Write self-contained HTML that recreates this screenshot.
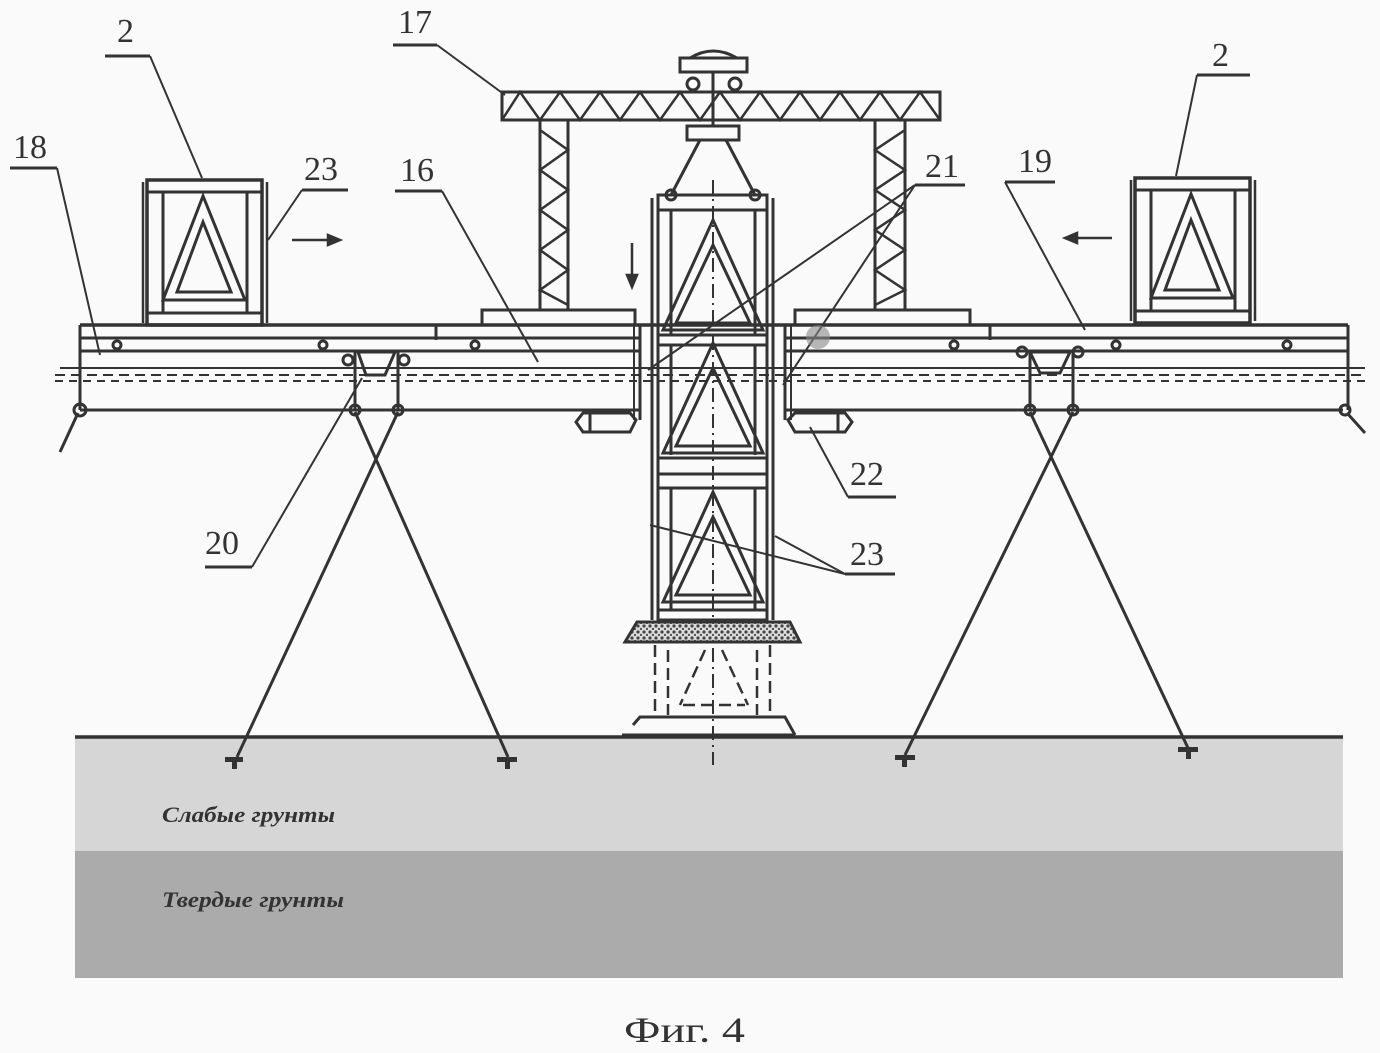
<!DOCTYPE html>
<html><head><meta charset="utf-8"><style>
html,body{margin:0;padding:0;background:#fafafa;}
svg{display:block}
text{font-family:"Liberation Serif",serif;fill:#333}
</style></head><body>
<svg width="1380" height="1053" viewBox="0 0 1380 1053" xmlns="http://www.w3.org/2000/svg">
<defs>
<pattern id="dots" width="6" height="6" patternUnits="userSpaceOnUse"><rect width="6" height="6" fill="#ddd"/><circle cx="2" cy="2" r="1.6" fill="#444"/><circle cx="5" cy="5" r="1.2" fill="#555"/></pattern>
<g id="cont">
 <rect x="0" y="0" width="115" height="145" fill="none" stroke="#333" stroke-width="3.5"/>
 <line x1="0" y1="12" x2="115" y2="12" stroke="#333" stroke-width="3"/>
 <line x1="0" y1="133" x2="115" y2="133" stroke="#333" stroke-width="3"/>
 <line x1="16" y1="12" x2="16" y2="133" stroke="#333" stroke-width="3"/>
 <line x1="100" y1="12" x2="100" y2="133" stroke="#333" stroke-width="3"/>
 <polygon points="56,16 16,120 98,120" fill="none" stroke="#333" stroke-width="3"/>
 <polygon points="56,42 30,112 84,112" fill="none" stroke="#333" stroke-width="3"/>
 <line x1="-4" y1="2" x2="-4" y2="143" stroke="#333" stroke-width="2.5"/>
 <line x1="120" y1="2" x2="120" y2="143" stroke="#333" stroke-width="2.5"/>
</g>
<g id="panel">
 <polygon points="55,0 5,110 105,110" fill="none" stroke="#333" stroke-width="3"/>
 <polygon points="55,25 18,103 92,103" fill="none" stroke="#333" stroke-width="3"/>
</g>
</defs>
<rect width="1380" height="1053" fill="#fafafa"/>
<!-- ground -->
<rect x="75" y="737" width="1268" height="114" fill="#d6d6d6"/>
<rect x="75" y="851" width="1268" height="127" fill="#ababab"/>
<line x1="75" y1="737" x2="1343" y2="737" stroke="#333" stroke-width="3.5"/>
<text x="162" y="822" font-size="22" font-style="italic" font-weight="bold" textLength="173" lengthAdjust="spacingAndGlyphs">Слабые грунты</text>
<text x="162" y="907" font-size="22" font-style="italic" font-weight="bold" textLength="182" lengthAdjust="spacingAndGlyphs">Твердые грунты</text>
<text x="624" y="1042" font-size="36" textLength="121" lengthAdjust="spacingAndGlyphs">Фиг. 4</text>

<g stroke="#333" fill="none" stroke-width="3">
<!-- gantry -->
<rect x="502" y="92" width="438" height="28"/>
<polyline points="502,120 520,92 540,120 560,92 580,120 600,92 620,120 640,92 660,120 680,92 700,120 720,92 740,120 760,92 780,120 800,92 820,120 840,92 860,120 880,92 900,120 920,92 940,120" stroke-width="2.5"/>
<rect x="540" y="120" width="28" height="190"/>
<polyline points="540,130 568,150 540,170 568,190 540,210 568,230 540,250 568,270 540,290 568,305" stroke-width="2.5"/>
<rect x="875" y="120" width="30" height="190"/>
<polyline points="905,130 875,150 905,170 875,190 905,210 875,230 905,250 875,270 905,290 875,305" stroke-width="2.5"/>
<rect x="482" y="310" width="153" height="15"/>
<rect x="795" y="310" width="175" height="15"/>
<!-- trolley -->
<rect x="680" y="58" width="67" height="14"/>
<path d="M690,58 Q713,44 737,58" />
<circle cx="693" cy="84" r="6"/><circle cx="735" cy="84" r="6"/>
<line x1="713" y1="72" x2="713" y2="126"/>
<rect x="687" y="126" width="52" height="14"/>
<polyline points="700,140 671,195"/><polyline points="726,140 755,195"/>
<circle cx="671" cy="195" r="5"/><circle cx="755" cy="195" r="5"/>
<!-- central column -->
<line x1="652" y1="198" x2="652" y2="620"/>
<line x1="773" y1="198" x2="773" y2="620"/>
<rect x="658" y="195" width="109" height="425" />
<line x1="658" y1="210" x2="767" y2="210"/>
<line x1="671" y1="210" x2="671" y2="335"/><line x1="755" y1="210" x2="755" y2="335"/>
<line x1="658" y1="335" x2="767" y2="335"/>
<line x1="658" y1="345" x2="767" y2="345"/>
<line x1="671" y1="345" x2="671" y2="455"/><line x1="755" y1="345" x2="755" y2="455"/>
<line x1="658" y1="458" x2="767" y2="458"/>
<line x1="658" y1="474" x2="767" y2="474"/>
<line x1="671" y1="488" x2="671" y2="610"/><line x1="755" y1="488" x2="755" y2="610"/>
<line x1="658" y1="488" x2="767" y2="488"/>
<line x1="658" y1="610" x2="767" y2="610"/>
<use href="#panel" x="658" y="220"/>
<use href="#panel" x="658" y="343"/>
<use href="#panel" x="658" y="492"/>
<line x1="713" y1="180" x2="713" y2="765" stroke-dasharray="14,5,2,5" stroke-width="2"/>
</g>
<polygon points="637,622 790,622 800,642 625,642" fill="url(#dots)" stroke="#333" stroke-width="3"/>
<g stroke="#333" fill="none" stroke-width="2.5" stroke-dasharray="12,6">
<line x1="655" y1="645" x2="655" y2="715"/><line x1="770" y1="645" x2="770" y2="715"/>
<line x1="668" y1="650" x2="668" y2="715"/><line x1="757" y1="650" x2="757" y2="715"/>
<line x1="705" y1="650" x2="680" y2="705"/><line x1="722" y1="650" x2="748" y2="705"/>
<line x1="683" y1="705" x2="745" y2="705"/>
</g>
<g stroke="#333" fill="none" stroke-width="3">
<polyline points="633,725 640,717 785,717 795,735"/>
<line x1="622" y1="735" x2="795" y2="735"/>
<!-- beam -->
<line x1="80" y1="325" x2="1348" y2="325" stroke-width="3.5"/>
<line x1="80" y1="338" x2="640" y2="338"/>
<line x1="436" y1="325" x2="436" y2="340"/>
<line x1="785" y1="338" x2="1348" y2="338"/>
<line x1="990" y1="325" x2="990" y2="340"/>
<line x1="80" y1="351" x2="640" y2="351"/>
<line x1="785" y1="351" x2="1348" y2="351"/>
<line x1="60" y1="368" x2="1365" y2="368" stroke-width="2"/>
<line x1="55" y1="375" x2="1365" y2="375" stroke-width="2" stroke-dasharray="10,6"/>
<line x1="55" y1="381" x2="1365" y2="381" stroke-width="2" stroke-dasharray="8,6"/>
<line x1="80" y1="410" x2="640" y2="410"/>
<line x1="785" y1="410" x2="1343" y2="410"/>
<line x1="80" y1="325" x2="80" y2="410"/>
<line x1="1348" y1="325" x2="1348" y2="410"/>
<line x1="640" y1="325" x2="640" y2="420"/>
<line x1="785" y1="325" x2="785" y2="420"/>
<line x1="634" y1="325" x2="634" y2="420" stroke-width="2"/>
<line x1="791" y1="325" x2="791" y2="420" stroke-width="2"/>
<!-- small rollers -->
<circle cx="117" cy="345" r="4"/><circle cx="323" cy="345" r="4"/><circle cx="475" cy="345" r="4"/>
<circle cx="954" cy="345" r="4"/><circle cx="1116" cy="345" r="4"/><circle cx="1287" cy="345" r="4"/>
<!-- hinge 20 left -->
<polygon points="358,352 395,352 385,375 366,375"/>
<circle cx="348" cy="360" r="5"/><circle cx="404" cy="360" r="5"/>
<line x1="355" y1="351" x2="355" y2="410"/><line x1="398" y1="351" x2="398" y2="410"/>
<!-- hinge right -->
<polygon points="1030,352 1070,352 1060,373 1040,373"/>
<circle cx="1022" cy="352" r="5"/><circle cx="1078" cy="352" r="5"/>
<line x1="1030" y1="351" x2="1030" y2="410"/><line x1="1073" y1="351" x2="1073" y2="410"/>
<!-- joints & legs -->
<circle cx="80" cy="410" r="6"/><circle cx="355" cy="410" r="5"/><circle cx="398" cy="410" r="5"/>
<circle cx="1030" cy="410" r="5"/><circle cx="1073" cy="410" r="5"/><circle cx="1345" cy="410" r="5"/>
<line x1="78" y1="413" x2="60" y2="452"/>
<line x1="1347" y1="413" x2="1365" y2="433"/>
<line x1="355" y1="412" x2="508" y2="757"/>
<line x1="398" y1="412" x2="237" y2="757"/>
<line x1="1030" y1="412" x2="1188" y2="748"/>
<line x1="1073" y1="412" x2="905" y2="755"/>
<!-- side clamps 22 -->
<path d="M583,413 L630,413 L636,420 L630,432 L583,432 L576,422 Z"/>
<line x1="590" y1="413" x2="590" y2="432"/>
<path d="M795,413 L845,413 L852,422 L845,432 L795,432 L788,420 Z"/>
<line x1="838" y1="413" x2="838" y2="432"/>
</g>
<!-- anchors -->
<g fill="#333">
<rect x="225" y="757" width="18" height="5"/><rect x="232" y="757" width="5" height="12"/>
<rect x="497" y="757" width="20" height="5"/><rect x="505" y="757" width="5" height="12"/>
<rect x="895" y="755" width="20" height="5"/><rect x="902" y="755" width="5" height="12"/>
<rect x="1178" y="747" width="20" height="5"/><rect x="1186" y="747" width="5" height="12"/>
</g>
<!-- containers -->
<use href="#cont" x="147" y="180"/>
<use href="#cont" x="1135" y="178"/>
<!-- arrows -->
<g stroke="#333" stroke-width="2.5" fill="#333">
<line x1="292" y1="240" x2="330" y2="240"/><polygon points="340,240 328,235 328,245"/>
<line x1="1112" y1="238" x2="1075" y2="238"/><polygon points="1065,238 1077,233 1077,243"/>
<line x1="632" y1="243" x2="632" y2="277"/><polygon points="632,287 627,275 637,275"/>
</g>
<!-- labels -->
<g stroke="#333" stroke-width="2" fill="none">
<line x1="105" y1="56" x2="150" y2="56" stroke-width="3"/><polyline points="150,56 202,178"/>
<line x1="393" y1="45" x2="437" y2="45" stroke-width="3"/><polyline points="437,45 505,95"/>
<line x1="10" y1="168" x2="57" y2="168" stroke-width="3"/><polyline points="57,168 100,355"/>
<line x1="302" y1="190" x2="348" y2="190" stroke-width="3"/><polyline points="302,190 268,240"/>
<line x1="395" y1="191" x2="442" y2="191" stroke-width="3"/><polyline points="442,191 538,362"/>
<line x1="915" y1="185" x2="965" y2="185" stroke-width="3"/><polyline points="915,185 648,370"/><polyline points="915,185 783,385"/>
<line x1="1005" y1="182" x2="1055" y2="182" stroke-width="3"/><polyline points="1005,182 1085,330"/>
<line x1="1197" y1="75" x2="1250" y2="75" stroke-width="3"/><polyline points="1197,75 1176,176"/>
<line x1="848" y1="497" x2="896" y2="497" stroke-width="3"/><polyline points="848,497 810,427"/>
<line x1="205" y1="567" x2="252" y2="567" stroke-width="3"/><polyline points="252,567 362,378"/>
<line x1="845" y1="574" x2="895" y2="574" stroke-width="3"/><polyline points="845,574 650,525"/><polyline points="845,574 775,536"/>
</g>
<g font-size="34">
<text x="117" y="42">2</text>
<text x="398" y="33">17</text>
<text x="13" y="158">18</text>
<text x="304" y="180">23</text>
<text x="400" y="181">16</text>
<text x="925" y="177">21</text>
<text x="1018" y="172">19</text>
<text x="1212" y="66">2</text>
<text x="850" y="485">22</text>
<text x="205" y="554">20</text>
<text x="850" y="565">23</text>
</g>
<circle cx="818" cy="337" r="12" fill="#888" opacity="0.6"/>
</svg>
</body></html>
